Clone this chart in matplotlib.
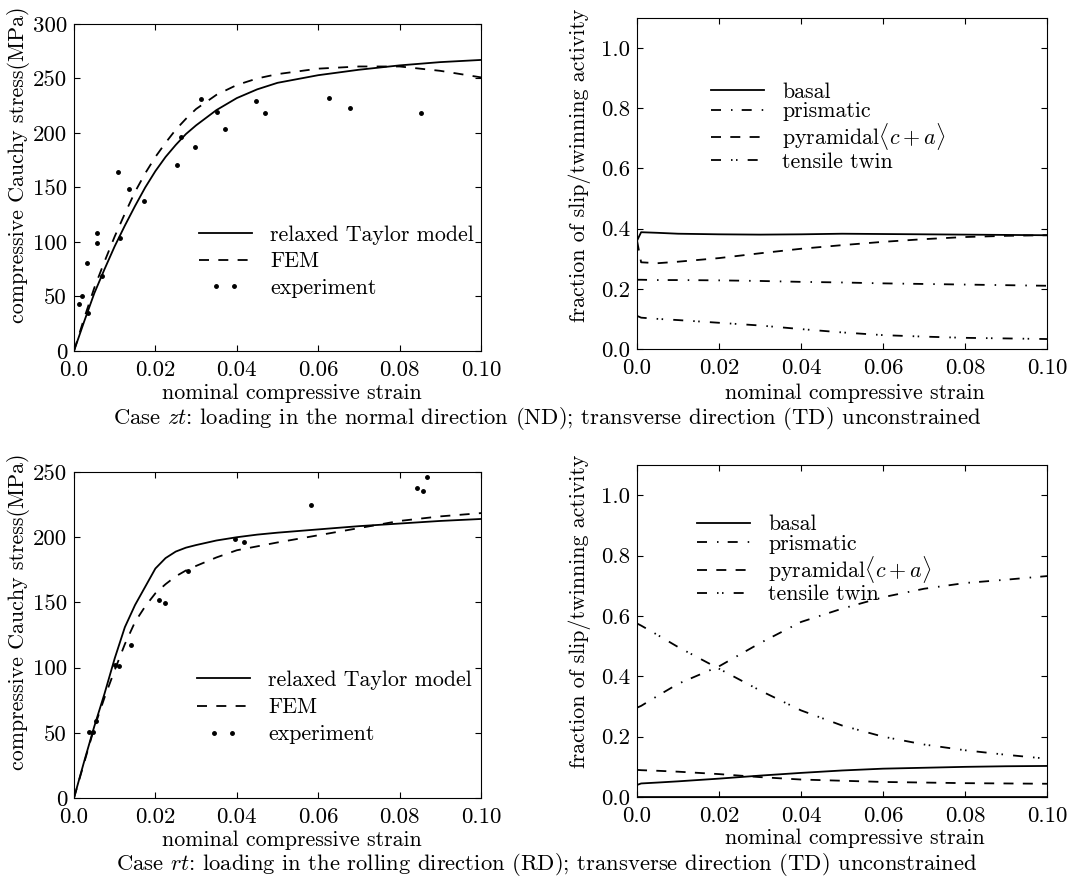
import matplotlib
matplotlib.use("Agg")
import matplotlib.pyplot as plt
from matplotlib.legend_handler import HandlerLine2D

# ─── Style ────────────────────────────────────────────────────────────────────
plt.rcParams['font.family'] = ['cmr10', 'DejaVu Serif']
plt.rcParams['mathtext.fontset'] = 'cm'
plt.rcParams['axes.unicode_minus'] = False
plt.rcParams['axes.formatter.use_mathtext'] = True
plt.rcParams['lines.scale_dashes'] = False
FS_TICK = 16.5
FS_LAB = 15.8
FS_LEG = 15.8
FS_CAP = 16.3

# ─── Data: case zt ────────────────────────────────────────────────────────────
strain = [0.0, 0.0025, 0.005, 0.0075, 0.01, 0.0125, 0.015, 0.0175, 0.02, 0.0225,
          0.025, 0.0275, 0.03, 0.035, 0.04, 0.045, 0.05, 0.06, 0.07, 0.08, 0.09, 0.10]
zt_taylor = [0, 27, 53, 75, 96, 115, 133, 150, 165, 178, 189, 199, 207, 221, 232,
             240, 246, 253, 258, 262, 265, 267]
zt_fem    = [0, 30, 58, 82, 105, 126, 146, 163, 178, 191, 203, 213, 222, 235, 244,
             250, 254, 259, 261, 261, 257, 251]

zt_exp_x = [0.0012, 0.0020, 0.0033, 0.0056, 0.0056, 0.0034, 0.0069, 0.0108, 0.0113,
            0.0134, 0.0173, 0.0252, 0.0262, 0.0298, 0.0313, 0.0351, 0.0372,
            0.0447, 0.0470, 0.0627, 0.0678, 0.0852]
zt_exp_y = [43, 50, 81, 108, 99, 35, 69, 164, 104, 149, 138, 171, 196, 187, 231,
            219, 204, 229, 218, 232, 223, 218]

act_x = [0.0, 0.001, 0.005, 0.01, 0.02, 0.03, 0.04, 0.05, 0.06, 0.07, 0.08, 0.09, 0.10]
zt_basal     = [0.36, 0.388, 0.386, 0.383, 0.381, 0.380, 0.381, 0.383, 0.382, 0.381, 0.380, 0.379, 0.378]
zt_prismatic = [0.230, 0.230, 0.229, 0.229, 0.228, 0.226, 0.223, 0.221, 0.218, 0.216, 0.214, 0.212, 0.210]
zt_pyramidal = [0.36, 0.288, 0.285, 0.290, 0.302, 0.318, 0.333, 0.345, 0.356, 0.365, 0.372, 0.376, 0.378]
zt_twin      = [0.11, 0.104, 0.100, 0.096, 0.087, 0.078, 0.066, 0.055, 0.046, 0.041, 0.037, 0.035, 0.033]

# ─── Data: case rt ────────────────────────────────────────────────────────────
rt_taylor = [0, 28, 55, 80, 107, 131, 148, 162, 176, 184, 189, 192, 194, 197.5, 200,
             202, 203.5, 206, 208.5, 210.5, 212.5, 214]
rt_fem    = [0, 27, 54, 77, 98, 118, 135, 147, 157, 164, 170, 174.5, 178, 184.5, 190,
             193, 196, 201.5, 207, 212.5, 216, 218.5]

rt_exp_x = [0.0038, 0.0046, 0.0054, 0.0101, 0.0111, 0.0140, 0.0208, 0.0223, 0.0279,
            0.0396, 0.0418, 0.0582, 0.0842, 0.0857, 0.0867]
rt_exp_y = [51, 51, 59, 102, 101, 117, 152, 149.5, 174, 199, 196.5, 225, 238, 235.5, 246]

rt_basal     = [0.040, 0.045, 0.048, 0.052, 0.061, 0.071, 0.080, 0.088, 0.094, 0.097, 0.100, 0.102, 0.103]
rt_prismatic = [0.296, 0.302, 0.335, 0.375, 0.433, 0.510, 0.580, 0.624, 0.662, 0.690, 0.709, 0.720, 0.732]
rt_pyramidal = [0.090, 0.089, 0.087, 0.084, 0.076, 0.066, 0.058, 0.054, 0.050, 0.048, 0.046, 0.045, 0.044]
rt_twin      = [0.575, 0.568, 0.537, 0.497, 0.425, 0.353, 0.287, 0.237, 0.200, 0.174, 0.155, 0.140, 0.127]
rt_other     = [0.0] * len(act_x)

x_ticks = [0.0, 0.02, 0.04, 0.06, 0.08, 0.10]
x_ticklabels = ['0.0', '0.02', '0.04', '0.06', '0.08', '0.10']
act_ticks = [0.0, 0.2, 0.4, 0.6, 0.8, 1.0]
act_ticklabels = ['0.0', '0.2', '0.4', '0.6', '0.8', '1.0']

zt_caption = r"Case $zt$: loading in the normal direction (ND); transverse direction (TD) unconstrained"
rt_caption = r"Case $rt$: loading in the rolling direction (RD); transverse direction (TD) unconstrained"

LW = 1.3
DASHED  = (0, (7.2, 6.7))
DASHDOT = (0, (7.2, 7.2, 1.1, 6.6))
DASHDD  = (0, (7.2, 7.2, 1.1, 2.5, 1.1, 7.3))


def style_axes(ax):
    ax.tick_params(direction='in', top=True, right=True, length=4,
                   labelsize=FS_TICK, pad=5)
    ax.tick_params(axis='x', pad=7)
    ax.set_xlim(0, 0.1)
    ax.set_xticks(x_ticks)
    ax.set_xticklabels(x_ticklabels)


def stress_panel(ax, taylor, fem, ex, ey, yticks, ylim, legend_xy, label_y, xlab_y, spacing):
    ax.plot(strain, taylor, color='k', lw=LW, label='relaxed Taylor model')
    ax.plot(strain, fem, color='k', lw=LW, linestyle=DASHED, label='FEM')
    exp, = ax.plot(ex, ey, color='k', linestyle='none', marker='.', markersize=5,
                   label='experiment')
    style_axes(ax)
    ax.set_ylim(*ylim)
    ax.set_yticks(yticks)
    ax.set_yticklabels([str(v) for v in yticks])
    ax.set_xlabel('nominal compressive strain', fontsize=FS_LAB)
    ax.set_ylabel('compressive Cauchy stress(MPa)', fontsize=FS_LAB)
    ax.xaxis.set_label_coords(0.536, xlab_y)
    ax.yaxis.set_label_coords(-0.108, label_y)
    ax.legend(loc='upper left', bbox_to_anchor=legend_xy, frameon=False,
              fontsize=FS_LEG, borderpad=0, borderaxespad=0, handlelength=2.4,
              handletextpad=0.85, labelspacing=spacing,
              handler_map={exp: HandlerLine2D(numpoints=2, marker_pad=0.8)})


def activity_panel(ax, basal, prism, pyram, twin, legend_xy, label_y, xlab_y, extra=None):
    ax.plot(act_x, basal, color='k', lw=LW, label='basal')
    ax.plot(act_x, prism, color='k', lw=LW, linestyle=DASHDOT, label='prismatic')
    ax.plot(act_x, pyram, color='k', lw=LW, linestyle=DASHED,
            label=r'pyramidal$\langle c+a\rangle$')
    ax.plot(act_x, twin, color='k', lw=LW, linestyle=DASHDD, label='tensile twin')
    if extra is not None:
        ax.plot(act_x, extra, color='k', lw=LW * 1.5)
    style_axes(ax)
    ax.set_ylim(0, 1.1)
    ax.set_yticks(act_ticks)
    ax.set_yticklabels(act_ticklabels)
    ax.set_xlabel('nominal compressive strain', fontsize=FS_LAB)
    ax.set_ylabel('fraction of slip/twinning activity', fontsize=FS_LAB)
    ax.xaxis.set_label_coords(0.532, xlab_y)
    ax.yaxis.set_label_coords(-0.112, label_y)
    ax.legend(loc='upper left', bbox_to_anchor=legend_xy, frameon=False,
              fontsize=FS_LEG, borderpad=0, borderaxespad=0, handlelength=2.4,
              handletextpad=0.85, labelspacing=0.0)


fig = plt.figure(figsize=(10.91, 8.81), dpi=100)
ax_tl = fig.add_axes([0.0678, 0.6016, 0.3731, 0.3712])
ax_tr = fig.add_axes([0.5839, 0.6039, 0.3758, 0.3757])
ax_bl = fig.add_axes([0.0678, 0.0942, 0.3731, 0.3700])
ax_br = fig.add_axes([0.5839, 0.0953, 0.3758, 0.3769])

stress_panel(ax_tl, zt_taylor, zt_fem, zt_exp_x, zt_exp_y,
             [0, 50, 100, 150, 200, 250, 300], (0, 300), (0.307, 0.384), 0.569, -0.098, 0.32)
activity_panel(ax_tr, zt_basal, zt_prismatic, zt_pyramidal, zt_twin,
               (0.180, 0.806), 0.556, -0.103)
stress_panel(ax_bl, rt_taylor, rt_fem, rt_exp_x, rt_exp_y,
             [0, 50, 100, 150, 200, 250], (0, 250), (0.302, 0.391), 0.571, -0.101, 0.35)
activity_panel(ax_br, rt_basal, rt_prismatic, rt_pyramidal, rt_twin,
               (0.146, 0.85), 0.56, -0.096, extra=rt_other)

fig.text(0.5014, 0.5255, zt_caption, ha='center', va='center', fontsize=FS_CAP)
fig.text(0.5014, 0.0182, rt_caption, ha='center', va='center', fontsize=FS_CAP)

fig.savefig('out.png', dpi=100)
